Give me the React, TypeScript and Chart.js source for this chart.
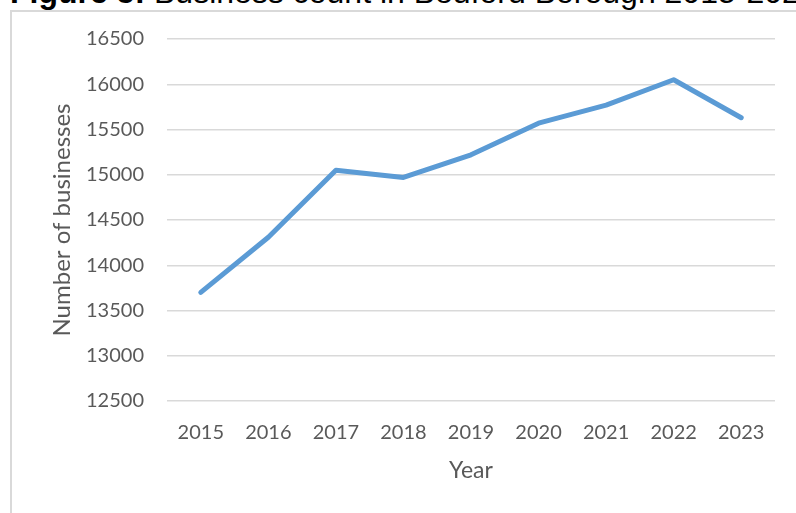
import React, { useEffect, useRef } from "react";
import { Chart, registerables } from "chart.js";

Chart.register(...registerables);

const years = ["2015", "2016", "2017", "2018", "2019", "2020", "2021", "2022", "2023"];
const businessCount = [13700, 14310, 15050, 14970, 15220, 15570, 15770, 16050, 15630];
const yMin = 12500;
const yMax = 16500;
const yStep = 500;

const titleBold = "Figure 5:";
const titleRest = " Business count in Bedford Borough 2015-2023";
const xTitle = "Year";
const yTitle = "Number of businesses";

const FONT = "Lato, 'Open Sans', sans-serif";

export default function App() {
  const ref = useRef<HTMLCanvasElement | null>(null);

  useEffect(() => {
    if (!ref.current) return;
    const chart = new Chart(ref.current, {
      type: "line",
      data: {
        labels: years,
        datasets: [
          {
            data: businessCount,
            borderColor: "#5b9bd5",
            backgroundColor: "#5b9bd5",
            borderWidth: 5,
            borderCapStyle: "round",
            borderJoinStyle: "round",
            pointRadius: 0,
            tension: 0,
            fill: false,
          },
        ],
      },
      options: {
        responsive: false,
        animation: false,
        layout: { padding: { top: 39, right: 21, left: 0, bottom: 0 } },
        plugins: { legend: { display: false }, tooltip: { enabled: false }, title: { display: false } },
        scales: {
          x: {
            offset: true,
            grid: { display: false, drawTicks: false },
            border: { display: false },
            ticks: { color: "#595959", font: { family: FONT, size: 20 }, padding: 20, maxRotation: 0 },
            title: {
              display: true,
              text: xTitle,
              color: "#595959",
              font: { family: FONT, size: 23 },
              padding: { top: 0, bottom: 29 },
            },
            afterFit: (s: any) => {
              s.height = 112;
            },
          },
          y: {
            min: yMin,
            max: yMax,
            grid: { color: "#d9d9d9", lineWidth: 1.5, drawTicks: false },
            border: { display: false },
            ticks: {
              stepSize: yStep,
              color: "#595959",
              font: { family: FONT, size: 20 },
              padding: 23,
              callback: (v: any) => String(v),
            },
            title: {
              display: true,
              text: yTitle,
              color: "#595959",
              font: { family: FONT, size: 24 },
              padding: { top: 48, bottom: 0 },
            },
            afterFit: (s: any) => {
              s.width = 167;
            },
          },
        },
      },
    });
    return () => chart.destroy();
  }, []);

  return (
    <div style={{ position: "fixed", left: 0, top: 0, width: 796, height: 513, overflow: "hidden", background: "#fff" }}>
      <div
        style={{
          position: "absolute",
          left: 10,
          top: 10,
          width: 820,
          height: 540,
          border: "2px solid #d9d9d9",
          boxSizing: "border-box",
        }}
      />
      <div
        style={{
          position: "absolute",
          left: 10,
          top: -26,
          whiteSpace: "nowrap",
          fontFamily: "'Liberation Sans', Arial, sans-serif",
          fontSize: 32,
          lineHeight: "36px",
          color: "#000",
        }}
      >
        <b>{titleBold}</b>
        {titleRest}
      </div>
      <canvas ref={ref} width={796} height={513} style={{ position: "absolute", left: 0, top: 0 }} />
    </div>
  );
}
